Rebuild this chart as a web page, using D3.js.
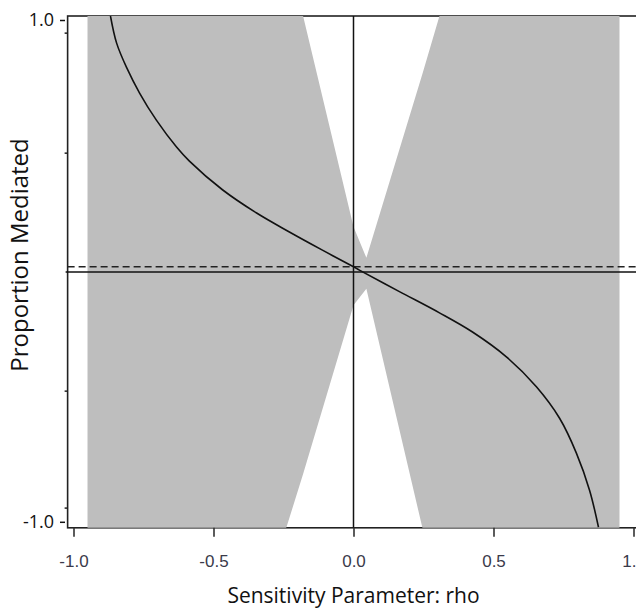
<!DOCTYPE html>
<html>
<head>
<meta charset="utf-8">
<script src="https://cdn.jsdelivr.net/npm/d3@7"></script>
<style>
  html, body { margin: 0; padding: 0; background: #fff; }
  svg { display: block; }
</style>
</head>
<body>
<script>
// Sensitivity analysis: proportion mediated as a function of rho,
// with its confidence band.

// Point estimate of the proportion mediated
const estRho = [-0.868, -0.846, -0.811, -0.764, -0.704, -0.632, -0.586, -0.468, -0.346, -0.229, -0.111, 0, 0.021, 0.164, 0.307, 0.425, 0.546, 0.654, 0.736, 0.796, 0.843, 0.875];
const estValue = [1.0, 0.894, 0.800, 0.699, 0.593, 0.488, 0.433, 0.321, 0.230, 0.156, 0.085, 0.02, 0.007, -0.077, -0.160, -0.235, -0.332, -0.450, -0.572, -0.708, -0.853, -0.998];

// Confidence band (values beyond +/-1 run off the plotting region)
const bandRho = [-0.95, -0.24, -0.18, 0, 0.046, 0.246, 0.307, 0.95];
const bandUpper = [3.0, 1.28, 1.0, 0.176, 0.055, 0.773, 1.0, 3.0];
const bandLower = [-3.0, -1.0, -0.79, -0.13, -0.066, -1.0, -1.285, -3.0];

// Estimate at rho = 0 (dashed reference line)
const estimateAtZero = 0.02;

// Axis ticks
const xTicks = [-1.0, -0.5, 0.0, 0.5, 1.0];
const yLabelTicks = [1.0, -1.0];
const yMinorTicks = [0.933, 0.464, -0.466, -0.923];

const fmt = d => d.toFixed(1);

const W = 636, H = 611;
const x = d3.scaleLinear().domain([-1, 1]).range([73.5, 633.5]);
const y = d3.scaleLinear().domain([-1, 1]).range([527.8, 16]);

const svg = d3.select("body").append("svg")
  .attr("width", W).attr("height", H);

const x0 = x(-1.021), x1 = x(1.03);
const yTop = y(1), yBot = y(-1);

svg.append("defs").append("clipPath").attr("id", "plotClip")
  .append("rect").attr("x", x0).attr("y", yTop)
  .attr("width", x1 - x0).attr("height", yBot - yTop);

// Frame
svg.append("rect")
  .attr("x", x0).attr("y", yTop)
  .attr("width", x1 - x0).attr("height", yBot - yTop)
  .attr("fill", "none").attr("stroke", "#222").attr("stroke-width", 1.6);

// Confidence band
const bandData = bandRho.map((r, i) => ({ r, lo: bandLower[i], hi: bandUpper[i] }));
svg.append("path")
  .datum(bandData)
  .attr("clip-path", "url(#plotClip)")
  .attr("fill", "#bebebe")
  .attr("d", d3.area().x(d => x(d.r)).y0(d => y(d.lo)).y1(d => y(d.hi)));

// Horizontal reference lines
svg.append("line")
  .attr("x1", x0 - 2).attr("x2", W)
  .attr("y1", y(0)).attr("y2", y(0))
  .attr("stroke", "#111").attr("stroke-width", 1.5);
svg.append("line")
  .attr("x1", x0).attr("x2", W)
  .attr("y1", y(estimateAtZero)).attr("y2", y(estimateAtZero))
  .attr("stroke", "#222").attr("stroke-width", 1.5)
  .attr("stroke-dasharray", "7,4");

// Vertical line at rho = 0
svg.append("line")
  .attr("x1", x(0)).attr("x2", x(0))
  .attr("y1", yTop).attr("y2", yBot)
  .attr("stroke", "#111").attr("stroke-width", 1.5);

// Point estimate curve
const estData = estRho.map((r, i) => ({ r, v: estValue[i] }));
svg.append("path")
  .datum(estData)
  .attr("clip-path", "url(#plotClip)")
  .attr("fill", "none").attr("stroke", "#111").attr("stroke-width", 1.6)
  .attr("d", d3.line().x(d => x(d.r)).y(d => y(d.v)).curve(d3.curveCatmullRom.alpha(0.5)));

// X axis ticks and labels
const xAxis = d3.axisBottom(x).tickValues(xTicks)
  .tickSize(9).tickPadding(18).tickFormat(fmt);
const gx = svg.append("g").attr("transform", `translate(0,${yBot})`).call(xAxis);
gx.select(".domain").remove();
gx.selectAll(".tick line").attr("stroke", "#333").attr("stroke-width", 1.6);
gx.selectAll(".tick text")
  .attr("fill", "#3a3a4a")
  .style("font-family", "'Liberation Sans', Arial, sans-serif")
  .style("font-size", "17px");

// Y axis labels with their dash marks
const yLab = svg.append("g")
  .style("font-family", "'Open Sans', sans-serif")
  .style("font-size", "18px")
  .attr("fill", "#111");
yLabelTicks.forEach(v => {
  const base = v > 0 ? y(v) + 10 : y(v);
  yLab.append("text")
    .attr("x", 54).attr("y", base)
    .attr("text-anchor", "end")
    .text(fmt(v));
  yLab.append("line")
    .attr("x1", 60).attr("x2", 65)
    .attr("y1", base - 5.5).attr("y2", base - 5.5)
    .attr("stroke", "#111").attr("stroke-width", 1.5);
});

// Minor ticks on the y axis
svg.append("g").selectAll("line").data(yMinorTicks).join("line")
  .attr("x1", x0 - 3).attr("x2", x0)
  .attr("y1", d => y(d)).attr("y2", d => y(d))
  .attr("stroke", "#222").attr("stroke-width", 1.5);

// Axis titles
svg.append("text")
  .attr("x", x(0)).attr("y", 603)
  .attr("text-anchor", "middle")
  .style("font-family", "'Open Sans', sans-serif")
  .style("font-size", "21px")
  .attr("fill", "#111")
  .text("Sensitivity Parameter: rho");

svg.append("text")
  .attr("transform", "translate(28,255) rotate(-90)")
  .attr("text-anchor", "middle")
  .style("font-family", "'Open Sans', sans-serif")
  .style("font-size", "24px")
  .attr("fill", "#111")
  .text("Proportion Mediated");
</script>
</body>
</html>
